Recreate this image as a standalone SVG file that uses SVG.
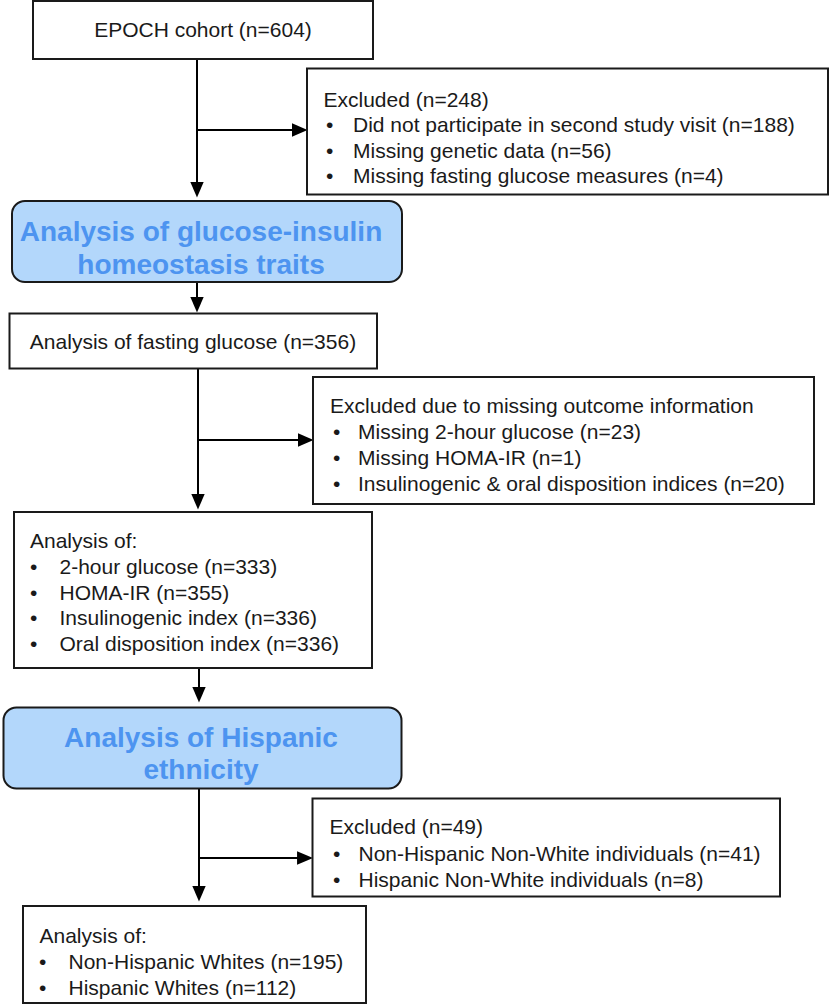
<svg xmlns="http://www.w3.org/2000/svg" width="830" height="1005" viewBox="0 0 830 1005">
<style>
.box{fill:#ffffff;stroke:#1a1a1a;stroke-width:2}
.hl{fill:#b3d7fb;stroke:#1a1a1a;stroke-width:2}
.t{font-family:"Liberation Sans",Arial,sans-serif;font-size:21px;fill:#1a1a1a}
.c{text-anchor:middle}
.ht{font-family:"Liberation Sans",Arial,sans-serif;font-size:28px;font-weight:bold;fill:#4d94f0;text-anchor:middle}
.ln{stroke:#000;stroke-width:2;fill:none}
.arr{marker-end:url(#ah)}
</style>
<defs>
<marker id="ah" markerUnits="userSpaceOnUse" markerWidth="16" markerHeight="14" viewBox="0 0 14 12" refX="10" refY="6" orient="auto">
<path d="M0,0 L14,6 L0,12 z" fill="#000"/>
</marker>
</defs>
<rect width="830" height="1005" fill="#ffffff"/>
<g id="connectors">
<line class="ln arr" x1="197" y1="59" x2="197" y2="193"/>
<line class="ln arr" x1="197" y1="130" x2="303" y2="130"/>
<line class="ln arr" x1="197" y1="283" x2="197" y2="308"/>
<line class="ln arr" x1="198" y1="368" x2="198" y2="505"/>
<line class="ln arr" x1="198" y1="440" x2="309" y2="440"/>
<line class="ln arr" x1="199" y1="668" x2="199" y2="698"/>
<line class="ln arr" x1="199" y1="788" x2="199" y2="897"/>
<line class="ln arr" x1="199" y1="858" x2="308.5" y2="858"/>
</g>
<g id="n-epoch">
<rect class="box" x="33" y="1" width="340" height="58"/>
<text class="t c" x="203" y="37">EPOCH cohort (n=604)</text>
</g>
<g id="n-excl1">
<rect class="box" x="307" y="68.5" width="521" height="126"/>
<text class="t" x="323.5" y="106.5">Excluded (n=248)</text>
<text class="t" x="326" y="132">•</text><text class="t" x="353" y="132">Did not participate in second study visit (n=188)</text>
<text class="t" x="326" y="157.5">•</text><text class="t" x="353" y="157.5">Missing genetic data (n=56)</text>
<text class="t" x="326" y="183">•</text><text class="t" x="353" y="183">Missing fasting glucose measures (n=4)</text>
</g>
<g id="n-glucose">
<rect class="hl" x="12" y="201" width="390" height="81" rx="13"/>
<text class="ht" x="201" y="241">Analysis of glucose-insulin</text>
<text class="ht" x="201" y="274">homeostasis traits</text>
</g>
<g id="n-fasting">
<rect class="box" x="9.5" y="313.5" width="367.5" height="55"/>
<text class="t c" x="193" y="349">Analysis of fasting glucose (n=356)</text>
</g>
<g id="n-excl2">
<rect class="box" x="313" y="377" width="501" height="127"/>
<text class="t" x="330" y="413">Excluded due to missing outcome information</text>
<text class="t" x="333" y="439">•</text><text class="t" x="358" y="439">Missing 2-hour glucose (n=23)</text>
<text class="t" x="333" y="465">•</text><text class="t" x="358" y="465">Missing HOMA-IR (n=1)</text>
<text class="t" x="333" y="491">•</text><text class="t" x="358" y="491">Insulinogenic &amp; oral disposition indices (n=20)</text>
</g>
<g id="n-analysis1">
<rect class="box" x="14" y="512" width="358" height="156"/>
<text class="t" x="30" y="547.5">Analysis of:</text>
<text class="t" x="30" y="573.5">•</text><text class="t" x="59.5" y="573.5">2-hour glucose (n=333)</text>
<text class="t" x="30" y="599.5">•</text><text class="t" x="59.5" y="599.5">HOMA-IR (n=355)</text>
<text class="t" x="30" y="625">•</text><text class="t" x="59.5" y="625">Insulinogenic index (n=336)</text>
<text class="t" x="30" y="651">•</text><text class="t" x="59.5" y="651">Oral disposition index (n=336)</text>
</g>
<g id="n-hispanic">
<rect class="hl" x="3.5" y="707.5" width="398" height="81" rx="13"/>
<text class="ht" x="201" y="746.5">Analysis of Hispanic</text>
<text class="ht" x="201" y="779">ethnicity</text>
</g>
<g id="n-excl3">
<rect class="box" x="312.5" y="798.5" width="467.5" height="98"/>
<text class="t" x="329.5" y="834">Excluded (n=49)</text>
<text class="t" x="333" y="861">•</text><text class="t" x="358.5" y="861">Non-Hispanic Non-White individuals (n=41)</text>
<text class="t" x="333" y="887">•</text><text class="t" x="358.5" y="887">Hispanic Non-White individuals (n=8)</text>
</g>
<g id="n-analysis2">
<rect class="box" x="23" y="906" width="343" height="97"/>
<text class="t" x="39.5" y="943">Analysis of:</text>
<text class="t" x="39" y="969">•</text><text class="t" x="68.5" y="969">Non-Hispanic Whites (n=195)</text>
<text class="t" x="39" y="995">•</text><text class="t" x="68.5" y="995">Hispanic Whites (n=112)</text>
</g>
</svg>
